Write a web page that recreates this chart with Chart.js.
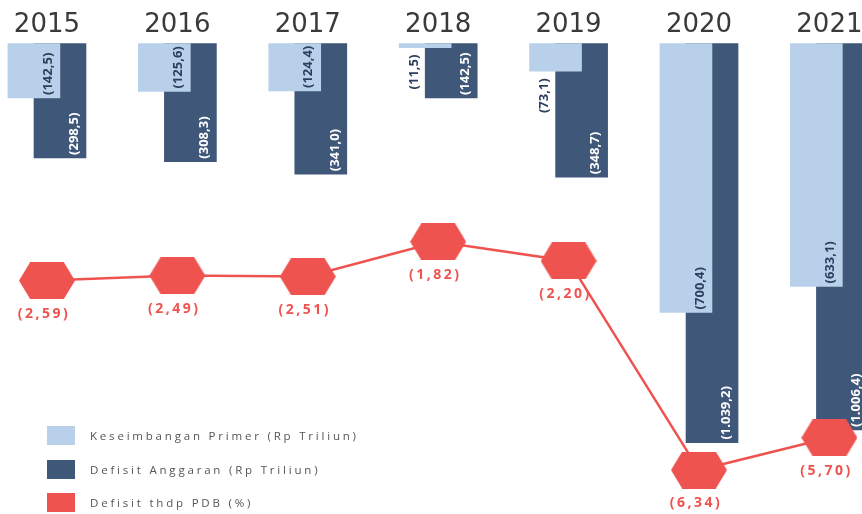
<!DOCTYPE html>
<html>
<head>
<meta charset="utf-8">
<script src="https://cdn.jsdelivr.net/npm/chart.js@4.4.1/dist/chart.umd.min.js"></script>
<style>
  html, body { margin: 0; padding: 0; background: #fff; }
  #wrap { position: relative; width: 862px; height: 514px; overflow: hidden; }
  #legend { position: absolute; left: 47px; top: 426px; font-family: "Open Sans", sans-serif; font-size: 11.5px; color: #555; letter-spacing: 2.8px; }
  .item { display: flex; align-items: center; height: 19px; margin-bottom: 14.5px; }
  .box { width: 28px; height: 19px; margin-right: 15px; }
</style>
</head>
<body>
<div id="wrap">
  <canvas id="chart"></canvas>
  <div id="legend"></div>
</div>
<script>
// --------- data ---------
const years = ['2015','2016','2017','2018','2019','2020','2021'];
const primer = [142.5, 125.6, 124.4, 11.5, 73.1, 700.4, 633.1];     // Keseimbangan Primer (Rp Triliun), deficit
const defisit = [298.5, 308.3, 341.0, 142.5, 348.7, 1039.2, 1006.4]; // Defisit Anggaran (Rp Triliun)
const pdb = [2.59, 2.49, 2.51, 1.82, 2.20, 6.34, 5.70];              // Defisit thdp PDB (%)

const LIGHT = '#b9d0ea', DARK = '#3f5778', RED = '#ef5350';

// label text like (1.039,2)
function fmt(v, dec){
    let s = v.toFixed(dec).replace('.', ',');
    const parts = s.split(',');
    parts[0] = parts[0].replace(/\B(?=(\d{3})+(?!\d))/g, '.');
    return '(' + parts.join(',') + ')';
}

// --------- hexagon marker ---------
function hexagon(w, h, color){
    const c = document.createElement('canvas');
    c.width = w; c.height = h;
    const ctx = c.getContext('2d');
    const inset = w * 0.2;
    ctx.beginPath();
    ctx.moveTo(0, h/2);
    ctx.lineTo(inset, 0);
    ctx.lineTo(w - inset, 0);
    ctx.lineTo(w, h/2);
    ctx.lineTo(w - inset, h);
    ctx.lineTo(inset, h);
    ctx.closePath();
    ctx.fillStyle = color;
    ctx.fill();
    return c;
}
const hex = hexagon(56, 37, RED);

// --------- value labels ---------
const valueLabels = {
    id: 'valueLabels',
    afterDatasetsDraw(chart){
        const ctx = chart.ctx;
        ctx.save();
        // bar labels, rotated
        [0, 1].forEach(di => {
            const meta = chart.getDatasetMeta(di);
            const vals = di === 0 ? primer : defisit;
            meta.data.forEach((bar, i) => {
                const txt = fmt(vals[i], 1);
                ctx.font = '700 13px "Open Sans", sans-serif';
                const inside = vals[i] > 100;
                let x, y;
                ctx.save();
                if(inside){
                    x = bar.x + 14; y = bar.y - 3;
                    ctx.fillStyle = di === 0 ? '#2c3f5e' : '#ffffff';
                    ctx.translate(x, y); ctx.rotate(-Math.PI/2);
                    ctx.textAlign = 'left';
                } else {
                    x = bar.x - 11; y = bar.y + 7;
                    ctx.fillStyle = '#2c3f5e';
                    ctx.translate(x, y); ctx.rotate(-Math.PI/2);
                    ctx.textAlign = 'right';
                }
                ctx.textBaseline = 'middle';
                ctx.fillText(txt, 0, 0);
                ctx.restore();
            });
        });
        // line labels
        const meta = chart.getDatasetMeta(2);
        ctx.font = '700 14px "Open Sans", sans-serif';
        ctx.letterSpacing = '2.5px';
        ctx.fillStyle = RED;
        ctx.textAlign = 'center';
        ctx.textBaseline = 'middle';
        meta.data.forEach((pt, i) => {
            ctx.fillText(fmt(pdb[i], 2), pt.x - 3, pt.y + 33);
        });
        ctx.restore();
    }
};

const chart = new Chart(document.getElementById('chart'), {
    type: 'bar',
    data: {
        datasets: [
            {
                label: 'Keseimbangan Primer (Rp Triliun)',
                data: primer.map((v, i) => ({x: i - 0.1, y: -v})),
                backgroundColor: LIGHT,
                barThickness: 52,
                grouped: false,
                order: 2
            },
            {
                label: 'Defisit Anggaran (Rp Triliun)',
                data: defisit.map((v, i) => ({x: i + 0.1, y: -v})),
                backgroundColor: DARK,
                barThickness: 52,
                grouped: false,
                order: 3
            },
            {
                type: 'line',
                label: 'Defisit thdp PDB (%)',
                data: pdb.map((v, i) => ({x: i, y: -v})),
                yAxisID: 'y2',
                borderColor: RED,
                backgroundColor: RED,
                borderWidth: 2.5,
                pointStyle: hex,
                pointRadius: 28,
                pointHoverRadius: 28,
                order: 1
            }
        ]
    },
    options: {
        responsive: true,
        maintainAspectRatio: false,
        animation: false,
        layout: { autoPadding: false, padding: { top: 8, left: 0, right: 0, bottom: 0 } },
        plugins: { legend: { display: false }, tooltip: { enabled: false } },
        scales: {
            x: {
                type: 'linear',
                position: 'top',
                offset: false,
                min: -0.36,
                max: 6.25,
                afterBuildTicks: s => { s.ticks = years.map((_, i) => ({value: i})); },
                afterFit: s => { s.paddingLeft = 0; s.paddingRight = 0; },
                ticks: {
                    callback: v => years[v],
                    font: { family: '"DejaVu Sans", sans-serif', size: 26 },
                    color: '#3a3a3a',
                    padding: 2,
                    maxRotation: 0,
                    autoSkip: false
                },
                grid: { display: false, drawTicks: false, offset: false },
                border: { display: false }
            },
            y: {
                display: false,
                min: -1225,
                max: 0
            },
            y2: {
                display: false,
                min: -7.21,
                max: 2.11
            }
        }
    },
    plugins: [valueLabels]
});

// --------- html legend ---------
const legend = document.getElementById('legend');
chart.data.datasets.forEach(ds => {
    const item = document.createElement('div');
    item.className = 'item';
    const box = document.createElement('div');
    box.className = 'box';
    box.style.background = ds.backgroundColor;
    const label = document.createElement('span');
    label.textContent = ds.label;
    item.appendChild(box);
    item.appendChild(label);
    legend.appendChild(item);
});
</script>
</body>
</html>
